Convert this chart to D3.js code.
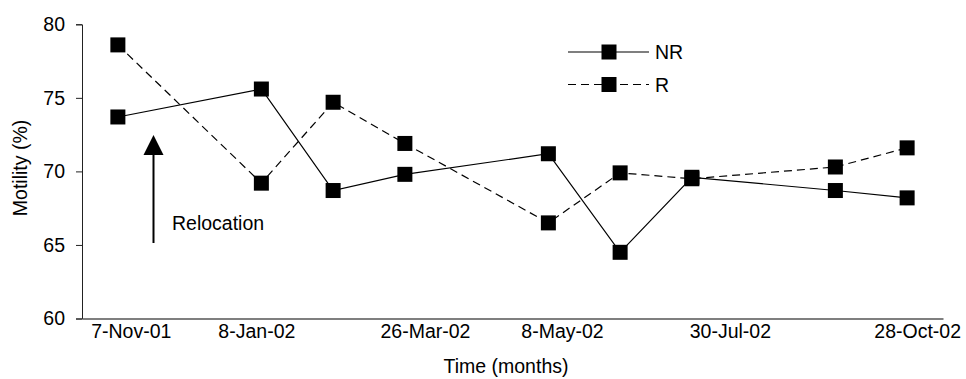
<!DOCTYPE html>
<html lang="en">
<head>
    <meta charset="UTF-8">
    <title>Motility over time</title>
    <script src="https://cdn.jsdelivr.net/npm/d3@7/dist/d3.min.js"></script>
    <style>
        body { margin: 0; background: #fff; }
        text { font-family: Arial, "Liberation Sans", sans-serif; }
    </style>
</head>
<body>
<script type="application/javascript">
    // months counted from Nov-01 (0) to Oct-02 (11)
    const months = [0, 2, 3, 4, 6, 7, 8, 10, 11];
    const nrValues = [73.7, 75.6, 68.7, 69.8, 71.2, 64.5, 69.6, 68.7, 68.2];
    const rValues = [78.6, 69.2, 74.7, 71.9, 66.5, 69.9, 69.5, 70.3, 71.6];
    const tickLabels = ['7-Nov-01', '8-Jan-02', '26-Mar-02', '8-May-02', '30-Jul-02', '28-Oct-02'];
    const tickMonths = [0.68, 2.43, 4.78, 6.69, 9.03, 11.64];
    const yTicks = [60, 65, 70, 75, 80];

    const w = 966, h = 379;
    const plotLeft = 82, plotRight = 943, plotTop = 24.3, plotBottom = 318.5;

    let svg = d3.select('body')
        .append('svg')
        .attr('width', w)
        .attr('height', h);

    let xScale = d3.scaleLinear()
        .domain([0, 12])
        .range([plotLeft, plotRight]);

    let yScale = d3.scaleLinear()
        .domain([60, 80])
        .range([plotBottom, plotTop]);

    // axes
    let yAxis = svg.append('g')
        .attr('transform', 'translate(' + plotLeft + ',0)')
        .call(d3.axisLeft(yScale).tickValues(yTicks).tickSize(6).tickPadding(11));
    yAxis.select('.domain').attr('stroke', '#222');
    yAxis.selectAll('.tick line').attr('stroke', '#222');
    yAxis.selectAll('text')
        .attr('font-size', '19.5px')
        .attr('font-family', 'Arial, "Liberation Sans", sans-serif')
        .attr('fill', '#000');

    let xAxis = svg.append('g')
        .attr('transform', 'translate(0,' + plotBottom + ')')
        .call(d3.axisBottom(xScale)
            .tickValues(tickMonths)
            .tickFormat((d, i) => tickLabels[i])
            .tickSize(0)
            .tickPadding(6));
    xAxis.select('.domain').attr('stroke', '#555').attr('stroke-width', 1.3);
    xAxis.selectAll('text')
        .attr('font-size', '19.5px')
        .attr('font-family', 'Arial, "Liberation Sans", sans-serif')
        .attr('fill', '#000');

    // axis titles
    svg.append('text')
        .text('Time (months)')
        .attr('x', 506)
        .attr('y', 373)
        .attr('text-anchor', 'middle')
        .attr('font-size', '19.5px');

    svg.append('text')
        .text('Motility (%)')
        .attr('transform', 'translate(27,168) rotate(-90)')
        .attr('text-anchor', 'middle')
        .attr('font-size', '19.5px');

    // lines
    const series = [
        {name: 'NR', values: nrValues, dash: null},
        {name: 'R', values: rValues, dash: '8,5'}
    ];

    let line = d3.line()
        .x(d => xScale(d.m + 0.5))
        .y(d => yScale(d.v));

    series.forEach(s => {
        let pts = months.map((m, i) => ({m: m, v: s.values[i]}));
        svg.append('path')
            .datum(pts)
            .attr('d', line)
            .attr('fill', 'none')
            .attr('stroke', '#000')
            .attr('stroke-width', 1.2)
            .attr('stroke-dasharray', s.dash);
        svg.selectAll('rect.m' + s.name)
            .data(pts)
            .enter()
            .append('rect')
            .attr('class', 'm' + s.name)
            .attr('x', d => xScale(d.m + 0.5) - 7.5)
            .attr('y', d => yScale(d.v) - 7.5)
            .attr('width', 15)
            .attr('height', 15)
            .attr('fill', '#000');
    });

    // legend
    let legend = svg.append('g');
    series.forEach((s, i) => {
        let ly = 52 + i * 32.5;
        legend.append('line')
            .attr('x1', 568).attr('x2', 649)
            .attr('y1', ly).attr('y2', ly)
            .attr('stroke', '#000')
            .attr('stroke-width', 1.2)
            .attr('stroke-dasharray', s.dash);
        legend.append('rect')
            .attr('x', 609 - 7.5).attr('y', ly - 7.5)
            .attr('width', 15).attr('height', 15)
            .attr('fill', '#000');
        legend.append('text')
            .text(s.name)
            .attr('x', 655)
            .attr('y', ly + 7)
            .attr('font-size', '19.5px');
    });

    // relocation arrow
    svg.append('line')
        .attr('x1', 153.5).attr('x2', 153.5)
        .attr('y1', 243).attr('y2', 152)
        .attr('stroke', '#000')
        .attr('stroke-width', 2);
    svg.append('path')
        .attr('d', 'M153.5,135 L143.5,155 L163.5,155 Z')
        .attr('fill', '#000');
    svg.append('text')
        .text('Relocation')
        .attr('x', 172)
        .attr('y', 230)
        .attr('font-size', '19.5px');
</script>
</body>
</html>
